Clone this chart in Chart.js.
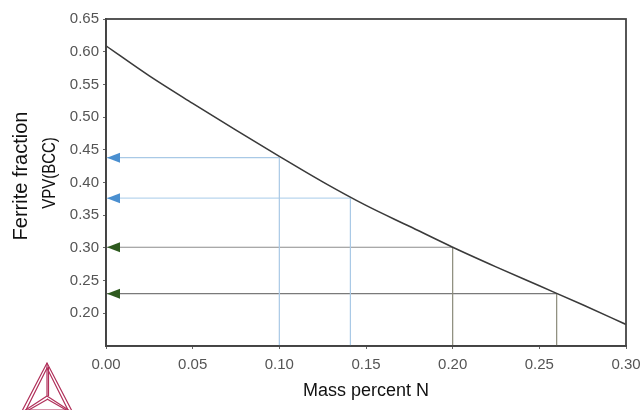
<!DOCTYPE html>
<html>
<head>
<meta charset="utf-8">
<script src="https://cdn.jsdelivr.net/npm/chart.js@4.4.1/dist/chart.umd.min.js"></script>
<style>
  html, body { margin: 0; padding: 0; background: #fff; }
  #wrap { position: relative; width: 641px; height: 410px; }
  #logo { position: absolute; left: 19px; top: 360px; }
</style>
</head>
<body>
<div id="wrap">
  <canvas id="c" width="641" height="410"></canvas>
  <svg id="logo" width="58" height="50" viewBox="0 0 58 50">
    <g fill="none" stroke="#b0305a" stroke-width="1.2">
      <polygon points="28,3 2,53 54,53"/>
      <polygon points="28,8 7,50 49,50"/>
      <line x1="28" y1="3" x2="28" y2="36"/>
      <line x1="29.5" y1="7" x2="29.5" y2="36"/>
      <line x1="28" y1="36" x2="2" y2="53"/>
      <line x1="29" y1="39" x2="8" y2="51"/>
      <line x1="28" y1="36" x2="54" y2="53"/>
      <line x1="28" y1="39" x2="49" y2="51"/>
    </g>
  </svg>
</div>
<script>
// ---- data ----
const curveX = [0, 0.025, 0.05, 0.075, 0.10, 0.125, 0.15, 0.175, 0.20, 0.225, 0.25, 0.275, 0.30];
const curveY = [0.609, 0.563, 0.521, 0.480, 0.440, 0.401, 0.365, 0.333, 0.301, 0.271, 0.242, 0.213, 0.183];
const readX = [0.10, 0.141, 0.20, 0.26];
const readY = [0.438, 0.376, 0.301, 0.230];
const xTicks = [0, 0.05, 0.10, 0.15, 0.20, 0.25, 0.30];
const yTicks = [0.20, 0.25, 0.30, 0.35, 0.40, 0.45, 0.50, 0.55, 0.60, 0.65];
const xMin = 0, xMax = 0.30, yMin = 0.15, yMax = 0.65;
const xTitle = 'Mass percent N';
const yTitle1 = 'Ferrite fraction';
const yTitle2 = 'VPV(BCC)';

// ---- styles ----
const hColors = ['#a9c9e6', '#b9d6ee', '#8c8c8c', '#7a7a7a'];
const vColors = ['#a9c9e6', '#a9c9e6', '#8a8a7a', '#8a8a7a'];
const headColors = ['#4a8fd0', '#4a8fd0', '#2e5a1f', '#2e5a1f'];

const datasets = [];
datasets.push({
  data: curveX.map((x, i) => ({x, y: curveY[i]})),
  borderColor: '#3a3a3a', borderWidth: 1.6, pointRadius: 0,
  cubicInterpolationMode: 'monotone', order: 0
});
readX.forEach((x, i) => {
  datasets.push({
    data: [{x: x, y: readY[i]}, {x: xMin, y: readY[i]}],
    borderColor: hColors[i], borderWidth: 1.2, pointRadius: 0, arrow: headColors[i], order: 2
  });
  datasets.push({
    data: [{x: x, y: readY[i]}, {x: x, y: yMin}],
    borderColor: vColors[i], borderWidth: 1.2, pointRadius: 0, order: 2
  });
});

const framePlugin = {
  id: 'frame',
  afterDatasetsDraw(chart) {
    const {ctx, chartArea: a, scales} = chart;
    chart.data.datasets.forEach(ds => {
      if (!ds.arrow) return;
      const px = scales.x.getPixelForValue(ds.data[1].x);
      const py = scales.y.getPixelForValue(ds.data[1].y);
      ctx.save();
      ctx.fillStyle = ds.arrow;
      ctx.beginPath();
      ctx.moveTo(px + 1, py);
      ctx.lineTo(px + 14, py - 5);
      ctx.lineTo(px + 14, py + 5);
      ctx.closePath();
      ctx.fill();
      ctx.restore();
    });
    ctx.save();
    ctx.strokeStyle = '#444';
    ctx.lineWidth = 1.8;
    ctx.strokeRect(a.left, a.top, a.right - a.left, a.bottom - a.top);
    ctx.restore();
  },
  afterDraw(chart) {
    const {ctx} = chart;
    ctx.save();
    ctx.fillStyle = '#111';
    ctx.textAlign = 'center';
    ctx.textBaseline = 'middle';
    ctx.translate(21, 176);
    ctx.rotate(-Math.PI / 2);
    ctx.font = '20px "Liberation Sans", Arial, sans-serif';
    ctx.fillText(yTitle1, 0, 0);
    ctx.restore();
    ctx.save();
    ctx.fillStyle = '#111';
    ctx.textAlign = 'center';
    ctx.textBaseline = 'middle';
    ctx.translate(50, 173);
    ctx.rotate(-Math.PI / 2);
    ctx.font = '15px "Liberation Sans", Arial, sans-serif';
    ctx.scale(1, 1.2);
    ctx.fillText(yTitle2, 0, 0);
    ctx.restore();
  }
};

new Chart(document.getElementById('c'), {
  type: 'line',
  data: { datasets },
  options: {
    responsive: false,
    animation: false,
    events: [],
    layout: { padding: { left: 0, right: 15, top: 19, bottom: 0 } },
    plugins: { legend: { display: false }, tooltip: { enabled: false } },
    scales: {
      x: {
        type: 'linear', min: xMin, max: xMax,
        afterBuildTicks: s => { s.ticks = xTicks.map(v => ({value: v})); },
        afterFit: s => { s.height = 64; s.paddingRight = 0; s.paddingLeft = 0; },
        ticks: { callback: v => v.toFixed(2), color: '#555', font: { size: 15, family: '"Liberation Sans", Arial, sans-serif' }, padding: 7, maxRotation: 0 },
        grid: { drawOnChartArea: false, color: '#666', tickLength: 3 },
        border: { color: '#444', width: 1.8 },
        title: { display: true, text: xTitle, color: '#111', font: { size: 18, family: '"Liberation Sans", Arial, sans-serif' }, padding: { top: 0, bottom: 8 } }
      },
      y: {
        type: 'linear', min: yMin, max: yMax,
        afterBuildTicks: s => { s.ticks = yTicks.map(v => ({value: v})); },
        afterFit: s => { s.width = 106; s.paddingTop = 0; s.paddingBottom = 0; },
        ticks: { callback: v => v.toFixed(2), color: '#555', font: { size: 15, family: '"Liberation Sans", Arial, sans-serif' }, padding: 4 },
        grid: { drawOnChartArea: false, color: '#666', tickLength: 3 },
        border: { color: '#444', width: 1.8 }
      }
    }
  },
  plugins: [framePlugin]
});
</script>
</body>
</html>
